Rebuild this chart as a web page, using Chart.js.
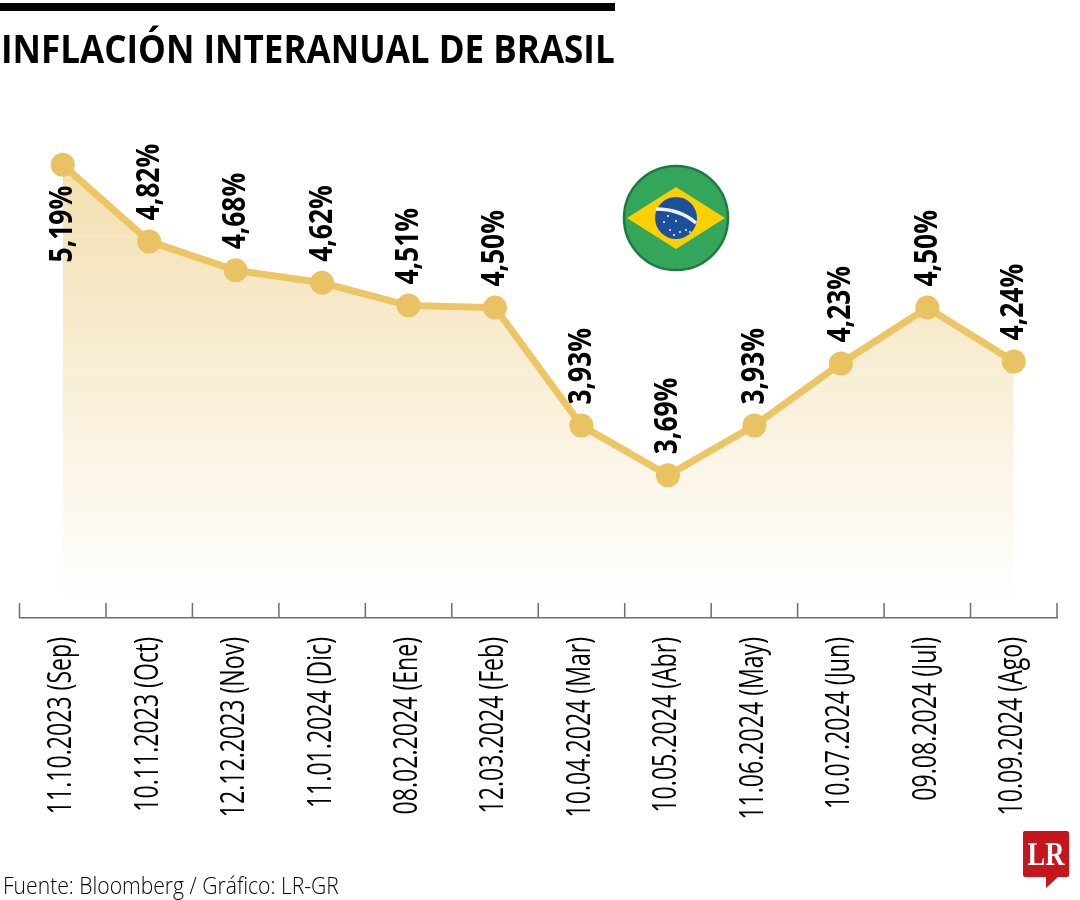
<!DOCTYPE html>
<html lang="es">
<head>
<meta charset="utf-8">
<title>Inflación interanual de Brasil</title>
<script src="https://cdn.jsdelivr.net/npm/chart.js@4"></script>
<style>
    html, body { margin: 0; padding: 0; background: #fff; }
    #wrap { position: relative; width: 1080px; height: 900px; overflow: hidden; }
    #chart { position: absolute; left: 0; top: 0; }
    #bar { position: absolute; left: 0; top: 3px; width: 615px; height: 8px; background: #000; }
    .fit { position: absolute; white-space: nowrap; transform-origin: 0 0; font-family: "Open Sans", sans-serif; color: #000; }
    #title { left: 1px; top: 21px; font-size: 39px; font-weight: 700; line-height: 54px; }
    #source { left: 3px; top: 869px; font-size: 24px; font-weight: 300; line-height: 32px; }
    #flag { position: absolute; left: 620px; top: 162px; }
    #logo { position: absolute; left: 1020px; top: 828px; }
</style>
</head>
<body>
<div id="wrap">
    <canvas id="chart" width="1080" height="900"></canvas>
    <div id="bar"></div>
    <div id="title" class="fit" data-width="614">INFLACIÓN INTERANUAL DE BRASIL</div>
    <div id="source" class="fit" data-width="336">Fuente: Bloomberg / Gráfico: LR-GR</div>
    <svg id="flag" width="112" height="112" viewBox="0 0 112 112">
        <circle cx="56" cy="56" r="52" fill="#33a65c" stroke="#1f7a40" stroke-width="2.5"/>
        <polygon points="7,56 56,25 105,56 56,87" fill="#fcd000"/>
        <circle cx="56" cy="56" r="21" fill="#1d4f9f"/>
        <path d="M36 47 Q60 47 76 61" fill="none" stroke="#f2f2f2" stroke-width="3.5"/>
        <g fill="#fff">
            <circle cx="44" cy="60" r="1"/><circle cx="50" cy="68" r="1"/><circle cx="56" cy="59" r="1"/>
            <circle cx="60" cy="70" r="1"/><circle cx="66" cy="68" r="1"/><circle cx="48" cy="54" r="1"/>
            <circle cx="70" cy="70" r="1"/><circle cx="54" cy="73" r="1"/>
        </g>
    </svg>
    <svg id="logo" width="54" height="64" viewBox="0 0 54 64">
        <path d="M5 3 H47 Q49 3 49 5 V47 Q49 49 47 49 H38 L26 60 V49 H5 Q3 49 3 47 V5 Q3 3 5 3 Z" fill="#c4161c"/>
        <text x="26" y="37" text-anchor="middle" textLength="37" lengthAdjust="spacingAndGlyphs" font-family="Liberation Serif" font-weight="700" font-size="33" fill="#fff">LR</text>
    </svg>
</div>
<script>
const fechas = ['11.10.2023 (Sep)', '10.11.2023 (Oct)', '12.12.2023 (Nov)', '11.01.2024 (Dic)', '08.02.2024 (Ene)', '12.03.2024 (Feb)',
    '10.04.2024 (Mar)', '10.05.2024 (Abr)', '11.06.2024 (May)', '10.07.2024 (Jun)', '09.08.2024 (Jul)', '10.09.2024 (Ago)'];
const inflacion = [5.19, 4.82, 4.68, 4.62, 4.51, 4.50, 3.93, 3.69, 3.93, 4.23, 4.50, 4.24];

// squeeze the html texts, the original font is a condensed one
document.querySelectorAll('.fit').forEach(function(el) {
    el.style.transform = 'scaleX(' + (el.dataset.width / el.offsetWidth) + ')';
});

// rotated text, squeezed along its own length
function verticalText(ctx, text, x, y, align, font, squeeze) {
    ctx.save();
    ctx.translate(x, y);
    ctx.rotate(-Math.PI / 2);
    ctx.scale(squeeze, 1);
    ctx.font = font;
    ctx.fillStyle = '#000';
    ctx.textAlign = align;
    ctx.textBaseline = 'middle';
    ctx.fillText(text, 0, 0);
    ctx.restore();
}

const marcas = {
    id: 'marcas',
    afterDatasetsDraw: function(chart) {
        const ctx = chart.ctx;
        const xAxis = chart.scales.x;
        const step = xAxis.getPixelForValue(1) - xAxis.getPixelForValue(0);

        // tick marks between the categories
        ctx.save();
        ctx.strokeStyle = '#6e6e6e';
        ctx.lineWidth = 1.5;
        ctx.beginPath();
        for (let i = 0; i <= fechas.length; i++) {
            const x = xAxis.getPixelForValue(0) - step / 2 + i * step;
            ctx.moveTo(x, xAxis.top - 15);
            ctx.lineTo(x, xAxis.top);
        }
        ctx.stroke();
        ctx.restore();

        const points = chart.getDatasetMeta(0).data;
        fechas.forEach(function(label, i) {
            verticalText(ctx, label, xAxis.getPixelForValue(i) - 1, 637, 'right', '400 33px "Open Sans"', 0.7);
            const value = inflacion[i].toFixed(2).replace('.', ',') + '%';
            // the first label sits under its point, the rest above
            if (i === 0) {
                verticalText(ctx, value, points[i].x, points[i].y + 21, 'right', '700 33px "Open Sans"', 0.8);
            } else {
                verticalText(ctx, value, points[i].x, points[i].y - 21, 'left', '700 33px "Open Sans"', 0.8);
            }
        });
    }
};

new Chart(document.getElementById('chart'), {
    type: 'line',
    data: {
        labels: fechas,
        datasets: [{
            data: inflacion,
            borderColor: '#ecc564',
            borderWidth: 7,
            tension: 0,
            pointRadius: 12,
            pointHoverRadius: 12,
            pointBackgroundColor: '#e9c263',
            pointBorderWidth: 0,
            fill: 'start',
            backgroundColor: function(context) {
                const g = context.chart.ctx.createLinearGradient(0, 165, 0, 602);
                g.addColorStop(0, '#f3dfb0');
                g.addColorStop(1, 'rgba(243, 223, 176, 0)');
                return g;
            }
        }]
    },
    options: {
        responsive: false,
        animation: false,
        layout: { padding: { left: 19.5, right: 23, top: 80, bottom: 274 } },
        plugins: { legend: { display: false }, tooltip: { enabled: false } },
        scales: {
            x: {
                offset: true,
                grid: { display: false },
                border: { display: true, color: '#6e6e6e', width: 1.5 },
                ticks: { display: false }
            },
            y: {
                display: false,
                min: 3,
                max: 5.6
            }
        }
    },
    plugins: [marcas]
});
</script>
</body>
</html>
